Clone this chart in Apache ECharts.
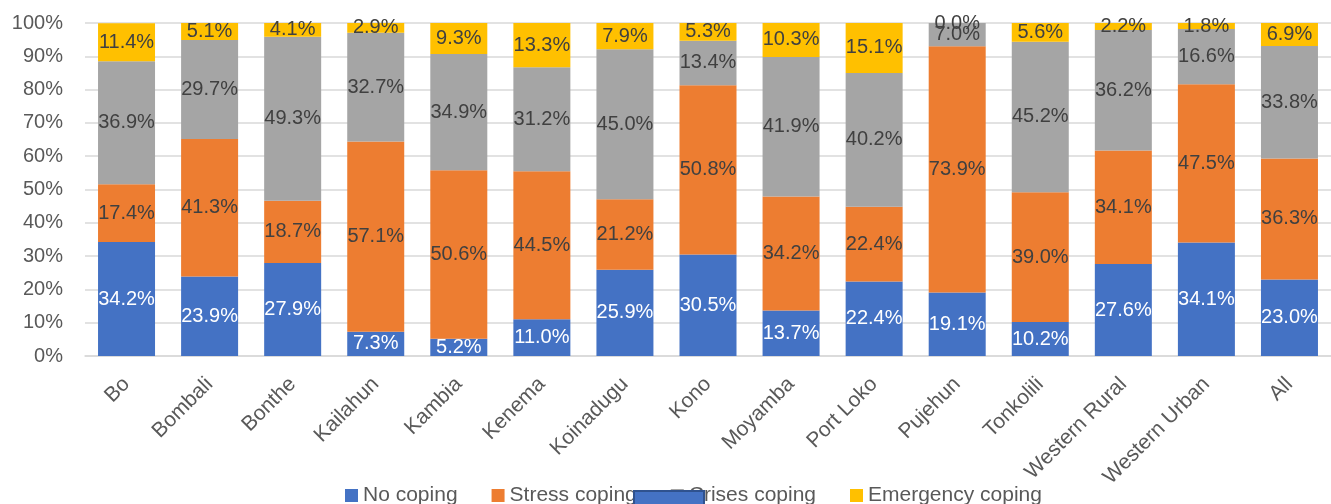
<!DOCTYPE html>
<html>
<head>
<meta charset="utf-8">
<script src="https://cdn.jsdelivr.net/npm/echarts@6/dist/echarts.min.js"></script>
<style>
  html, body { margin: 0; padding: 0; background: #fff; }
  #chart { width: 1331px; height: 504px; }
</style>
</head>
<body>
<div id="chart"></div>
<script>
// Coping strategy shares by district (percent of households)
const districts = ['Bo', 'Bombali', 'Bonthe', 'Kailahun', 'Kambia', 'Kenema', 'Koinadugu', 'Kono',
  'Moyamba', 'Port Loko', 'Pujehun', 'Tonkolili', 'Western Rural', 'Western Urban', 'All'];
const noCoping = [34.2, 23.9, 27.9, 7.3, 5.2, 11.0, 25.9, 30.5, 13.7, 22.4, 19.1, 10.2, 27.6, 34.1, 23.0];
const stressCoping = [17.4, 41.3, 18.7, 57.1, 50.6, 44.5, 21.2, 50.8, 34.2, 22.4, 73.9, 39.0, 34.1, 47.5, 36.3];
const crisesCoping = [36.9, 29.7, 49.3, 32.7, 34.9, 31.2, 45.0, 13.4, 41.9, 40.2, 7.0, 45.2, 36.2, 16.6, 33.8];
const emergencyCoping = [11.4, 5.1, 4.1, 2.9, 9.3, 13.3, 7.9, 5.3, 10.3, 15.1, 0.0, 5.6, 2.2, 1.8, 6.9];
const yTicks = [0, 10, 20, 30, 40, 50, 60, 70, 80, 90, 100];

const FONT = '"Liberation Sans", Arial, sans-serif';
const TEXT = '#595959';

function stackSeries(name, data, color, labelColor) {
  return {
    name: name,
    type: 'bar',
    stack: 'total',
    data: data,
    barWidth: 57,
    itemStyle: { color: color },
    label: {
      show: true,
      position: 'inside',
      color: labelColor,
      fontFamily: FONT,
      fontSize: 20,
      formatter: p => p.value.toFixed(1) + '%'
    },
    emphasis: { disabled: true }
  };
}

const chart = echarts.init(document.getElementById('chart'), null, { renderer: 'canvas' });
chart.setOption({
  animation: false,
  textStyle: { fontFamily: FONT },
  grid: { left: 85, top: 23, width: 1257, height: 333 },
  legend: {
    left: 340,
    top: 480,
    icon: 'rect',
    itemWidth: 13,
    itemHeight: 13,
    itemGap: 34,
    textStyle: { color: TEXT, fontSize: 21, fontFamily: FONT },
    data: ['No coping', 'Stress coping', 'Crises coping', 'Emergency coping']
  },
  xAxis: {
    type: 'category',
    data: districts,
    axisLine: { lineStyle: { color: '#d9d9d9', width: 1.5 } },
    axisTick: { show: false },
    axisLabel: { rotate: 45, color: TEXT, fontSize: 21, fontFamily: FONT, margin: 25, interval: 0 }
  },
  yAxis: {
    type: 'value',
    min: yTicks[0],
    max: yTicks[yTicks.length - 1],
    interval: yTicks[1] - yTicks[0],
    axisLine: { show: false },
    axisTick: { show: false },
    splitLine: { lineStyle: { color: '#d9d9d9', width: 1.5 } },
    axisLabel: { color: TEXT, fontSize: 20, fontFamily: FONT, margin: 22, formatter: '{value}%' }
  },
  series: [
    stackSeries('No coping', noCoping, '#4472C4', '#ffffff'),
    stackSeries('Stress coping', stressCoping, '#ED7D31', '#404040'),
    stackSeries('Crises coping', crisesCoping, '#A5A5A5', '#404040'),
    stackSeries('Emergency coping', emergencyCoping, '#FFC000', '#404040')
  ],
  graphic: [{
    // blue shape sitting over the legend
    type: 'rect',
    left: 633,
    top: 490,
    z: 100,
    shape: { width: 70, height: 20 },
    style: { fill: '#4472C4', stroke: '#2F528F', lineWidth: 2 }
  }]
});
</script>
</body>
</html>
